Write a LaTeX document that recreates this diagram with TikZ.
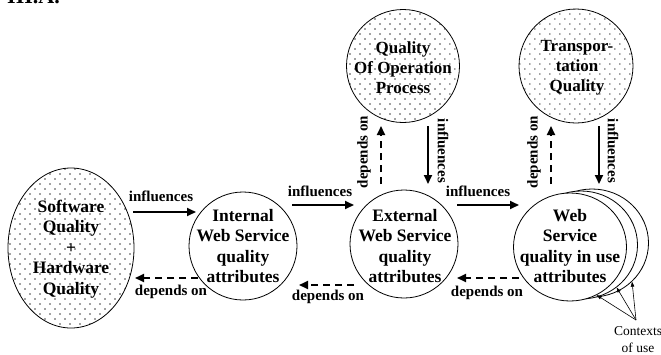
\documentclass[tikz,border=0pt]{standalone}
\usepackage{fontspec}
\setmainfont{Liberation Serif}
\usetikzlibrary{arrows.meta,patterns.meta,shapes.geometric}
\begin{document}
\begin{tikzpicture}[x=1pt,y=-1pt,
  dotted fill/.style={draw=black, line width=0.8pt,
    pattern={Dots[distance=7.07pt,angle=45,radius=0.8pt]}, pattern color=black!85},
  plainbox/.style={draw=black, line width=0.8pt, fill=white},
  ctext/.style={font=\fontsize{17.5}{20.5}\selectfont\bfseries, align=center, inner sep=0pt},
  lab/.style={font=\fontsize{15}{17}\selectfont\bfseries, inner sep=0pt},
  infl/.style={line width=1.8pt, -{Triangle[length=9pt,width=8pt]}},
  dep/.style={line width=1.8pt, dash pattern=on 7pt off 5pt, -{Triangle[length=9pt,width=8pt]}},
  ctxarr/.style={line width=0.6pt, -{Triangle[length=5pt,width=3.5pt]}}
]
\useasboundingbox (0,0) rectangle (661,354);

\node[font=\fontsize{22}{24}\selectfont\bfseries, anchor=base west, inner sep=0pt] (hdr) at (7,3) {III.A.};

% circles
\node[dotted fill, ellipse, minimum width=126pt, minimum height=160pt, inner sep=0pt] (sw) at (71,248) {};
\node[plainbox, circle, minimum size=108pt, inner sep=0pt] (int) at (243,246) {};
\node[plainbox, circle, minimum size=108pt, inner sep=0pt] (ext) at (404,244) {};
\node[dotted fill, circle, minimum size=113pt, inner sep=0pt] (qop) at (403,66) {};
\node[dotted fill, circle, minimum size=114pt, inner sep=0pt] (tq) at (576,66) {};
\node[plainbox, ellipse, minimum width=113pt, minimum height=108pt, inner sep=0pt] (wb3) at (592,243) {};
\node[plainbox, ellipse, minimum width=113pt, minimum height=108pt, inner sep=0pt] (wb2) at (581,245) {};
\node[plainbox, ellipse, minimum width=113pt, minimum height=108pt, inner sep=0pt] (wb) at (570,247) {};

% texts
\node[ctext] (swt) at (71,249) {Software\\Quality\\+\\Hardware\\Quality};
\node[ctext] (intt) at (243,246) {Internal\\Web Service\\quality\\attributes};
\node[ctext] (extt) at (405,246) {External\\Web Service\\quality\\attributes};
\node[ctext] (wbt) at (570,246) {Web\\Service\\quality in use\\attributes};
\node[ctext, font=\fontsize{17}{20}\selectfont\bfseries] (qopt) at (403,68) {Quality\\Of Operation\\Process};
\node[ctext, font=\fontsize{17}{20}\selectfont\bfseries] (tqt) at (577,68) {Transpor-\\tation\\Quality};

% horizontal arrow ends
\coordinate (a1s) at (133,212); \coordinate (a1e) at (196,212);
\coordinate (d1s) at (198,278); \coordinate (d1e) at (135,278);
\coordinate (a2s) at (292,205); \coordinate (a2e) at (354,205);
\coordinate (d2s) at (354,285); \coordinate (d2e) at (299,285);
\coordinate (a3s) at (457,205); \coordinate (a3e) at (519,205);
\coordinate (d3s) at (519,278); \coordinate (d3e) at (457,278);

\draw[infl] (a1s) -- (a1e);
\draw[dep] (d1s) -- (d1e);
\draw[infl] (a2s) -- (a2e);
\draw[dep] (d2s) -- (d2e);
\draw[infl] (a3s) -- (a3e);
\draw[dep] (d3s) -- (d3e);

\node[lab] (l1) at (161,196) {influences};
\node[lab] (l2) at (171,292) {depends on};
\node[lab] (l3) at (320,191) {influences};
\node[lab] (l4) at (328,297) {depends on};
\node[lab] (l5) at (478,191) {influences};
\node[lab] (l6) at (487,293) {depends on};

% vertical arrows
\coordinate (v1s) at (381,184); \coordinate (v1e) at (381,126);
\coordinate (v2s) at (428,126); \coordinate (v2e) at (428,184);
\coordinate (v3s) at (551,184); \coordinate (v3e) at (551,126);
\coordinate (v4s) at (599,126); \coordinate (v4e) at (599,184);
\draw[dep] (v1s) -- (v1e);
\draw[infl] (v2s) -- (v2e);
\draw[dep] (v3s) -- (v3e);
\draw[infl] (v4s) -- (v4e);

\node[lab, rotate=90] (l7) at (364,152) {depends on};
\node[lab, rotate=-90] (l8) at (443,151) {influences};
\node[lab, rotate=90] (l9) at (534,152) {depends on};
\node[lab, rotate=-90] (l10) at (613,151) {influences};

% contexts of use
\coordinate (ctxp) at (636,320);
\node[font=\fontsize{13.5}{17}\selectfont, align=center, inner sep=0pt] (ctx) at (638,340) {Contexts\\of use};
\draw[ctxarr] (ctxp) -- (wb.-61);
\draw[ctxarr] (ctxp) -- (wb2.-50);
\draw[ctxarr] (ctxp) -- (wb3.-44);
\end{tikzpicture}
\end{document}
